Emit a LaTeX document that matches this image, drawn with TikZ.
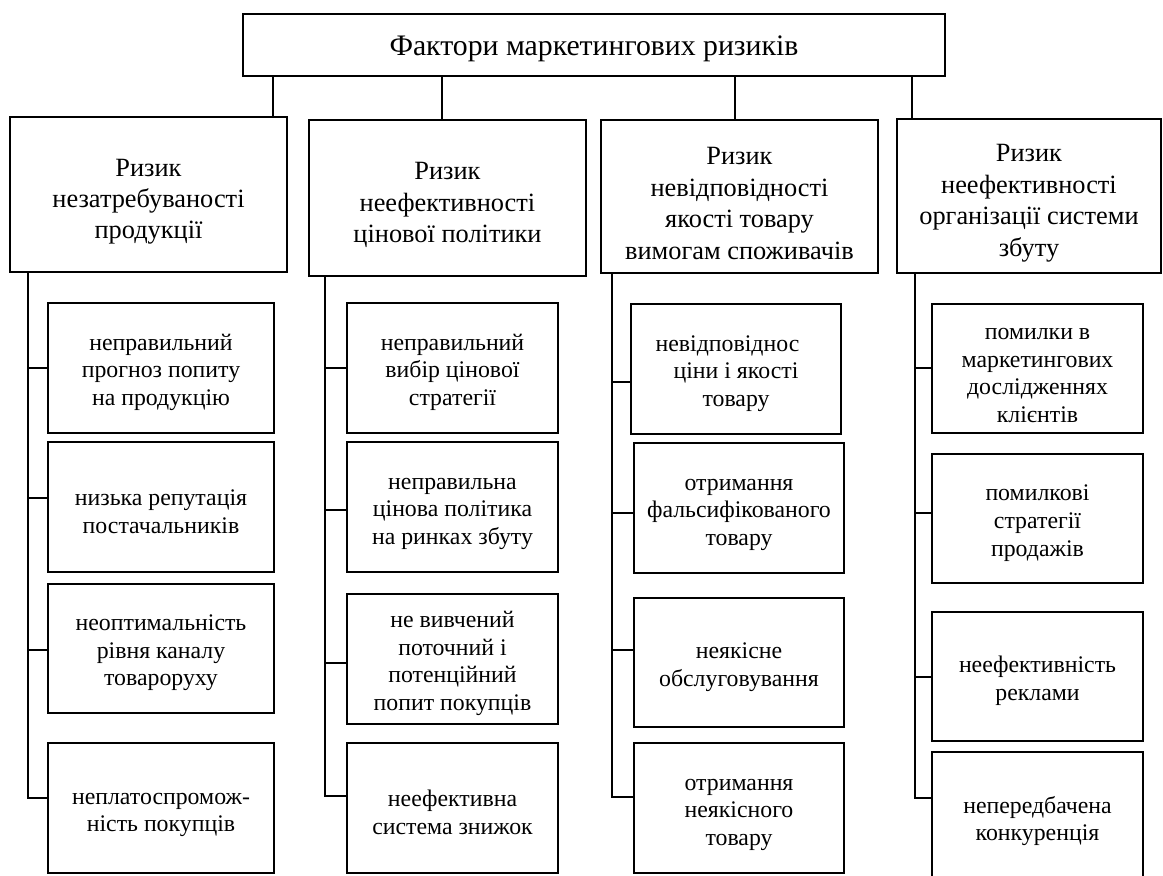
\documentclass[tikz,border=0pt]{standalone}
\usepackage{fontspec}
\setmainfont{Liberation Serif}
\usetikzlibrary{positioning}

\newdimen\px
\px=0.588pt

\newcommand{\titlefont}{\fontsize{17.5}{20}\selectfont}
\newcommand{\headfont}{\fontsize{15.5}{18.5}\selectfont}
\newcommand{\itemfont}{\fontsize{14}{16.2}\selectfont}

\tikzset{
frame/.style={draw, line width=1.5pt, inner sep=0pt, align=flush center}, % every box of the chart
riskbox/.style={frame, font=\headfont, text width=262\px, minimum width=277\px, minimum height=155\px,
  execute at begin node={\rule{0pt}{1.2em}}}, % the four kinds of risk
factor/.style={frame, font=\itemfont, text width=202\px, minimum width=211\px, minimum height=130\px,
  execute at begin node={\rule{0pt}{1.05em}}}, % the factors under each risk
link/.style={line width=1pt}, % thin connecting lines
}

\begin{document}
\begin{tikzpicture}[x=0.588pt, y=-0.588pt]
      \useasboundingbox (0,0) rectangle (1163,876);

      \node[frame, font=\titlefont, text width=680\px, minimum width=702\px, minimum height=62\px,
        execute at begin node={\rule{0pt}{0.9em}}] (title) at (594,45) {Фактори маркетингових ризиків};

      \node[riskbox] (r1) at (148.5,194.5) {Ризик\\ незатребуваності\\ продукції};
      \node[riskbox, minimum height=156\px] (r2) at (447.5,198) {Ризик\\ неефективності\\ цінової політики};
      \node[riskbox, minimum height=153\px] (r3) at (739.5,196.5) {Ризик\\ невідповідності\\ якості товару\\ вимогам споживачів};
      \node[riskbox, minimum width=264\px, minimum height=154\px] (r4) at (1029,196) {Ризик\\ неефективності\\ організації системи\\ збуту};

      % first column
      \node[factor, minimum width=226\px] (f1a) at (161,368) {неправильний\\ прогноз попиту\\ на продукцію};
      \node[factor, minimum width=226\px] (f1b) at (161,507) {низька репутація\\ постачальників};
      \node[factor, minimum width=226\px, minimum height=129\px] (f1c) at (161,648.5) {неоптимальність\\ рівня каналу\\ товароруху};
      \node[factor, minimum width=226\px] (f1d) at (161,808) {неплатоспромож-\\ність покупців};

      % second column
      \node[factor] (f2a) at (452.5,368) {неправильний\\ вибір цінової\\ стратегії};
      \node[factor] (f2b) at (452.5,507) {неправильна\\ цінова політика\\ на ринках збуту};
      \node[factor] (f2c) at (452.5,659) {не вивчений\\ поточний і\\ потенційний\\ попит покупців};
      \node[factor] (f2d) at (452.5,808) {неефективна\\ система знижок};

      % third column
      \node[factor, minimum width=210\px] (f3a) at (736,369) {невідповіднос\rule{10pt}{0pt}\\ ціни і якості\\ товару};
      \node[factor, minimum width=210\px] (f3b) at (739,508) {отримання\\ фальсифікованого\\ товару};
      \node[factor, minimum width=210\px, minimum height=129\px] (f3c) at (739,662.5) {неякісне\\ обслуговування};
      \node[factor, minimum width=210\px] (f3d) at (739,808) {отримання\\ неякісного\\ товару};

      % fourth column
      \node[factor, minimum height=129\px] (f4a) at (1037.5,368.5) {помилки в\\ маркетингових\\ дослідженнях\\ клієнтів};
      \node[factor, minimum height=129\px] (f4b) at (1037.5,518.5) {помилкові\\ стратегії\\ продажів};
      \node[factor, minimum height=129\px] (f4c) at (1037.5,676.5) {неефективність\\ реклами};
      \node[factor] (f4d) at (1037.5,817) {непередбачена\\ конкуренція};

      \foreach \r/\x in {r1/273, r2/442, r3/735, r4/912}
        \draw[link] (title.south -| \x,0) -- (\r.north -| \x,0);

      \coordinate (s1) at (28,798);
      \coordinate (s2) at (325,796);
      \coordinate (s3) at (612,797);
      \coordinate (s4) at (915,798);

      \draw[link] (r1.south -| s1) -- (s1) -- (f1d.west |- s1);
      \draw[link] (r2.south -| s2) -- (s2) -- (f2d.west |- s2);
      \draw[link] (r3.south -| s3) -- (s3) -- (f3d.west |- s3);
      \draw[link] (r4.south -| s4) -- (s4) -- (f4d.west |- s4);

      \foreach \f/\y in {f1a/368, f1b/498, f1c/650}
        \draw[link] (s1 |- 0,\y) -- (\f.west |- 0,\y);
      \foreach \f/\y in {f2a/368, f2b/510, f2c/663}
        \draw[link] (s2 |- 0,\y) -- (\f.west |- 0,\y);
      \foreach \f/\y in {f3a/382, f3b/513, f3c/650}
        \draw[link] (s3 |- 0,\y) -- (\f.west |- 0,\y);
      \foreach \f/\y in {f4a/368, f4b/513, f4c/677}
        \draw[link] (s4 |- 0,\y) -- (\f.west |- 0,\y);
\end{tikzpicture}
\end{document}
